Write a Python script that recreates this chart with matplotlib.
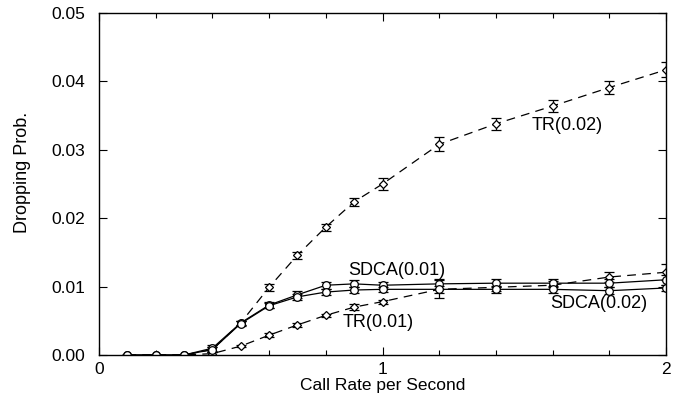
import numpy as np
import matplotlib
matplotlib.use("Agg")
import matplotlib.pyplot as plt
import matplotlib.ticker as ticker

plt.rcParams['font.family'] = ['Liberation Sans', 'DejaVu Sans']

# call rate per second (x) and dropping probability for each scheme
rate = [0.1, 0.2, 0.3, 0.4, 0.5, 0.6, 0.7, 0.8, 0.9, 1.0, 1.2, 1.4, 1.6, 1.8, 2.0]

tr_002 = [0, 0, 0, 0.0008, 0.0047, 0.0099, 0.0146, 0.0187, 0.0224, 0.0250,
          0.0308, 0.0338, 0.0364, 0.0391, 0.0417]
tr_002_err = [0, 0, 0, 0.0003, 0.0003, 0.0005, 0.0005, 0.0005, 0.0006, 0.0009,
              0.0010, 0.0009, 0.0009, 0.0009, 0.0011]

tr_001 = [0, 0, 0, 0.0002, 0.0013, 0.0029, 0.0044, 0.0058, 0.0070, 0.0078,
          0.0096, 0.0099, 0.0102, 0.0114, 0.0121]
tr_001_err = [0, 0, 0, 0.0002, 0.0002, 0.0003, 0.0003, 0.0002, 0.0004, 0.0003,
              0.0013, 0.0006, 0.0006, 0.0008, 0.0012]

sdca_001 = [0, 0, 0, 0.0010, 0.0047, 0.0073, 0.0088, 0.0102, 0.0104, 0.0102,
            0.0104, 0.0105, 0.0105, 0.0105, 0.0110]
sdca_001_err = [0, 0, 0, 0.0004, 0.0003, 0.0004, 0.0005, 0.0005, 0.0005, 0.0005,
                0.0007, 0.0006, 0.0006, 0.0006, 0.0007]

sdca_002 = [0, 0, 0, 0.0008, 0.0046, 0.0072, 0.0085, 0.0092, 0.0095, 0.0096,
            0.0096, 0.0096, 0.0096, 0.0094, 0.0098]
sdca_002_err = [0, 0, 0, 0.0004, 0.0003, 0.0004, 0.0004, 0.0004, 0.0004, 0.0004,
                0.0005, 0.0005, 0.0005, 0.0005, 0.0005]

fig = plt.figure(figsize=(6.81, 4.01), dpi=100)
ax = fig.add_axes([99/681, 46/401, 567/681, 342/401])

lw = 0.9
common = dict(color='black', ecolor='black', elinewidth=lw, capsize=3.5,
              capthick=lw, linewidth=lw, markerfacecolor='white',
              markeredgecolor='black', markeredgewidth=0.9)

for y, e in [(tr_002, tr_002_err), (tr_001, tr_001_err)]:
    ax.errorbar(rate, y, yerr=e, marker='D', markersize=4.5,
                dashes=(7, 5), **common)

for y, e in [(sdca_001, sdca_001_err), (sdca_002, sdca_002_err)]:
    ax.errorbar(rate, y, yerr=e, marker='o', markersize=5.5,
                linestyle='-', **common)

# curve labels
fs = 13
ax.text(1.527, 0.0336, "TR(0.02)", fontsize=fs, ha='left', va='center')
ax.text(0.878, 0.0124, "SDCA(0.01)", fontsize=fs, ha='left', va='center')
ax.text(0.861, 0.0047, "TR(0.01)", fontsize=fs, ha='left', va='center')
ax.text(1.591, 0.0076, "SDCA(0.02)", fontsize=fs, ha='left', va='center')

ax.set_xlim(0, 2)
ax.set_ylim(0, 0.05)
ax.xaxis.set_major_locator(ticker.MultipleLocator(1))
ax.xaxis.set_minor_locator(ticker.MultipleLocator(0.2))
ax.yaxis.set_major_locator(ticker.MultipleLocator(0.01))
ax.yaxis.set_major_formatter(ticker.FormatStrFormatter('%.2f'))

ax.tick_params(which='both', direction='in', top=True, right=True,
               width=0.8, labelsize=12.5)
ax.tick_params(which='major', length=6)
ax.tick_params(which='minor', length=3.5)
ax.tick_params(axis='y', pad=10)
ax.tick_params(axis='x', pad=5)

for sp in ax.spines.values():
    sp.set_linewidth(1)

ax.set_xlabel("Call Rate per Second", fontsize=12.5, labelpad=1)
fig.text(23/681, (401-172)/401, "Dropping Prob.", rotation=90,
         fontsize=13, ha='center', va='center',
         family=['Liberation Sans Narrow', 'Liberation Sans'])

fig.savefig("out.png", dpi=100)
